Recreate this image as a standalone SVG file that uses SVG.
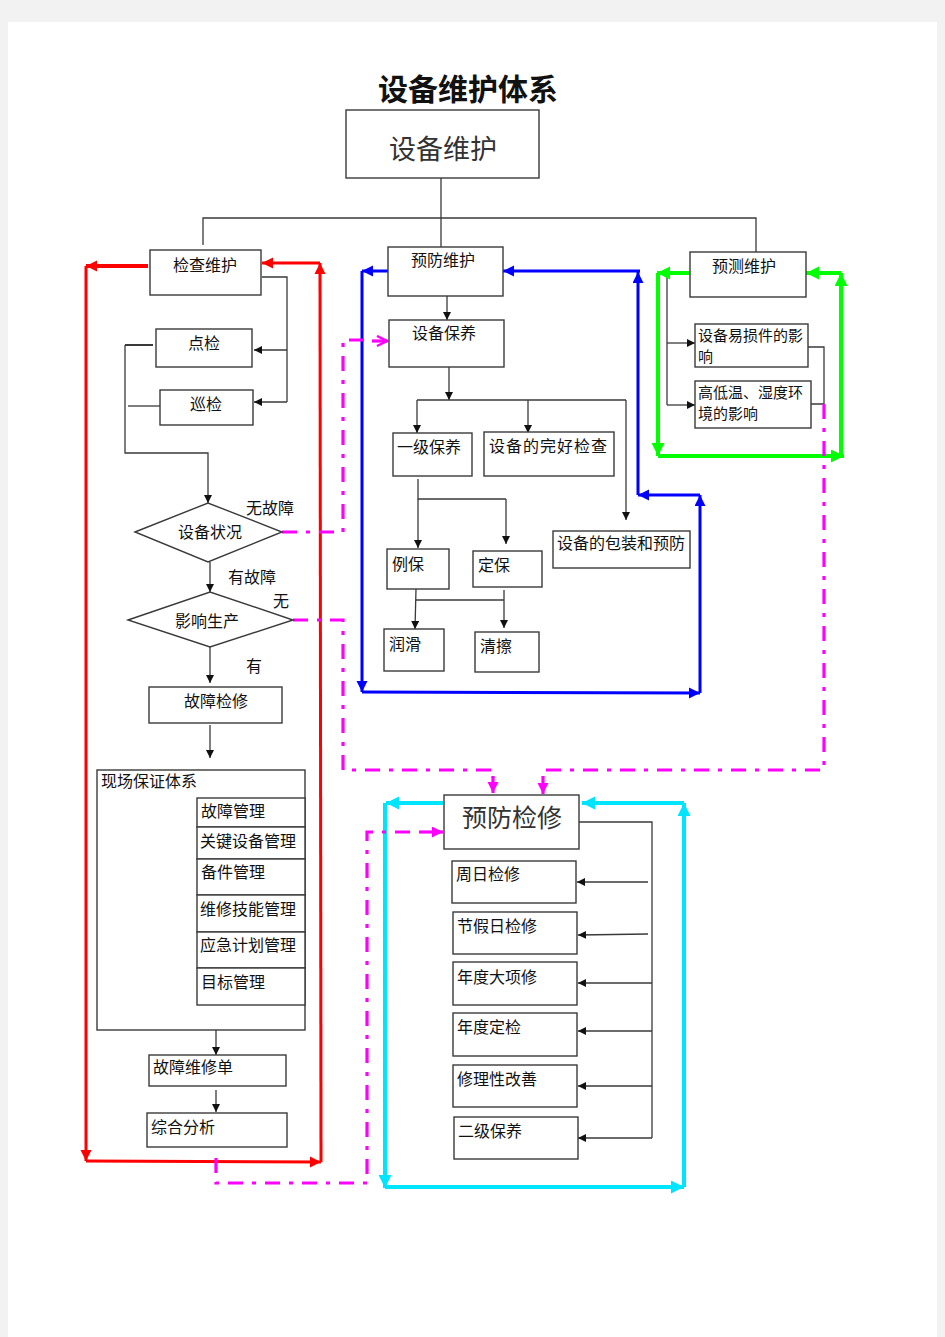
<svg xmlns="http://www.w3.org/2000/svg" width="945" height="1337" viewBox="0 0 945 1337">
<style>
.bx{fill:#fff;stroke:#3a3a3a;stroke-width:1.4}
.t{font-family:"Noto Sans CJK SC","Noto Sans CJK JP",sans-serif;font-size:16px;fill:#111}
.tc{text-anchor:middle}
.k{fill:none;stroke:#3a3a3a;stroke-width:1.3}
.r{fill:none;stroke:#ff0000;stroke-width:3}
.b{fill:none;stroke:#0000ff;stroke-width:3}
.g{fill:none;stroke:#00ff00;stroke-width:4}
.c{fill:none;stroke:#00e5ff;stroke-width:4}
.m{fill:none;stroke:#ff00ff;stroke-width:3.2;stroke-dasharray:15 9 4 9}
.ms{fill:none;stroke:#ff00ff;stroke-width:3.2}
</style>
<defs>
<marker id="ak" markerUnits="userSpaceOnUse" markerWidth="9" markerHeight="9" refX="8" refY="4" orient="auto"><path d="M0,0 L8,4 L0,8 z" fill="#111"/></marker>
<marker id="ar" markerUnits="userSpaceOnUse" markerWidth="12" markerHeight="12" refX="11" refY="5.5" orient="auto"><path d="M0,0 L11,5.5 L0,11 z" fill="#ff0000"/></marker>
<marker id="ab" markerUnits="userSpaceOnUse" markerWidth="12" markerHeight="12" refX="11" refY="5.5" orient="auto"><path d="M0,0 L11,5.5 L0,11 z" fill="#0000ff"/></marker>
<marker id="ag" markerUnits="userSpaceOnUse" markerWidth="14" markerHeight="14" refX="13" refY="6.5" orient="auto"><path d="M0,0 L13,6.5 L0,13 z" fill="#00ff00"/></marker>
<marker id="ac" markerUnits="userSpaceOnUse" markerWidth="14" markerHeight="14" refX="13" refY="6.5" orient="auto"><path d="M0,0 L13,6.5 L0,13 z" fill="#00e5ff"/></marker>
<marker id="am" markerUnits="userSpaceOnUse" markerWidth="12" markerHeight="12" refX="11" refY="5.5" orient="auto"><path d="M0,0 L11,5.5 L0,11 z" fill="#ff00ff"/></marker>
<marker id="amo" markerUnits="userSpaceOnUse" markerWidth="14" markerHeight="14" refX="11" refY="6" orient="auto"><path d="M1,1 L11,6 L1,11" fill="none" stroke="#ff00ff" stroke-width="2.5"/></marker>
<clipPath id="clipYS"><rect x="695" y="324" width="113" height="43"/></clipPath>
</defs>

<rect x="0" y="0" width="945" height="1337" fill="#f2f2f2"/>
<rect x="8" y="22" width="929" height="1315" fill="#fff"/>

<text x="468" y="100" class="t tc" style="font-size:30px;font-weight:bold">设备维护体系</text>

<g id="connectors">
  <!-- top tree -->
  <path class="k" d="M441,178 V248 M203,245 V218 H756 V253"/>
  <!-- left black -->
  <path class="k" d="M262,277 H287 V402"/>
  <line class="k" x1="287" y1="350" x2="254" y2="350" marker-end="url(#ak)"/>
  <line class="k" x1="287" y1="402" x2="254" y2="402" marker-end="url(#ak)"/>
  <path class="k" d="M128,406 H160"/>
  <path class="k" d="M125,345 H153" style="stroke-width:2"/>
  <path class="k" d="M125,345 V453 H208 V503" marker-end="url(#ak)"/>
  <line class="k" x1="210" y1="562" x2="210" y2="592" marker-end="url(#ak)"/>
  <line class="k" x1="210" y1="647" x2="210" y2="683" marker-end="url(#ak)"/>
  <line class="k" x1="210" y1="725" x2="210" y2="758" marker-end="url(#ak)"/>
  <line class="k" x1="216" y1="1030" x2="216" y2="1055" marker-end="url(#ak)"/>
  <line class="k" x1="216" y1="1090" x2="216" y2="1112" marker-end="url(#ak)"/>
  <!-- middle black -->
  <line class="k" x1="447" y1="296" x2="447" y2="320" marker-end="url(#ak)"/>
  <line class="k" x1="449" y1="367" x2="449" y2="400" marker-end="url(#ak)"/>
  <path class="k" d="M417,400 H626"/>
  <line class="k" x1="417" y1="400" x2="417" y2="433" marker-end="url(#ak)"/>
  <line class="k" x1="528" y1="400" x2="528" y2="433" marker-end="url(#ak)"/>
  <line class="k" x1="626" y1="400" x2="626" y2="520" marker-end="url(#ak)"/>
  <path class="k" d="M418,479 V499 H506"/>
  <line class="k" x1="418" y1="499" x2="418" y2="548" marker-end="url(#ak)"/>
  <line class="k" x1="506" y1="499" x2="506" y2="544" marker-end="url(#ak)"/>
  <path class="k" d="M416,600 H504"/>
  <line class="k" x1="416" y1="589" x2="415" y2="629" marker-end="url(#ak)"/>
  <line class="k" x1="504" y1="590" x2="504" y2="628" marker-end="url(#ak)"/>
  <!-- right black -->
  <path class="k" d="M667,273 V405"/>
  <line class="k" x1="667" y1="343" x2="695" y2="343" marker-end="url(#ak)"/>
  <line class="k" x1="667" y1="405" x2="695" y2="405" marker-end="url(#ak)"/>
  <path class="k" d="M808,347 H824 V404 H811"/>
  <!-- bottom right black -->
  <path class="k" d="M579,822 H652 V1138"/>
  <line class="k" x1="648" y1="882" x2="577" y2="882" marker-end="url(#ak)"/>
  <line class="k" x1="648" y1="934" x2="578" y2="935" marker-end="url(#ak)"/>
  <line class="k" x1="652" y1="983" x2="578" y2="983" marker-end="url(#ak)"/>
  <line class="k" x1="652" y1="1031" x2="578" y2="1031" marker-end="url(#ak)"/>
  <line class="k" x1="652" y1="1086" x2="578" y2="1086" marker-end="url(#ak)"/>
  <line class="k" x1="652" y1="1138" x2="578" y2="1138" marker-end="url(#ak)"/>

  <!-- red loop -->
  <line class="r" x1="148" y1="266" x2="86" y2="266" marker-end="url(#ar)" style="stroke-width:4"/>
  <line class="r" x1="86" y1="266" x2="86" y2="1161" marker-end="url(#ar)"/>
  <line class="r" x1="86" y1="1161" x2="321" y2="1162" marker-end="url(#ar)"/>
  <line class="r" x1="321" y1="1162" x2="320" y2="263" marker-end="url(#ar)"/>
  <line class="r" x1="320" y1="263" x2="262" y2="263" marker-end="url(#ar)"/>

  <!-- blue loop -->
  <line class="b" x1="388" y1="271" x2="362" y2="271" marker-end="url(#ab)"/>
  <line class="b" x1="362" y1="271" x2="362" y2="692" marker-end="url(#ab)"/>
  <line class="b" x1="362" y1="692" x2="700" y2="693" marker-end="url(#ab)"/>
  <line class="b" x1="700" y1="693" x2="700" y2="495" marker-end="url(#ab)"/>
  <line class="b" x1="700" y1="495" x2="638" y2="495" marker-end="url(#ab)"/>
  <line class="b" x1="638" y1="495" x2="638" y2="272" marker-end="url(#ab)"/>
  <line class="b" x1="640" y1="271" x2="503" y2="271" marker-end="url(#ab)"/>

  <!-- green loop -->
  <line class="g" x1="690" y1="273" x2="657" y2="273" marker-end="url(#ag)"/>
  <line class="g" x1="658" y1="273" x2="658" y2="456" marker-end="url(#ag)"/>
  <line class="g" x1="658" y1="456" x2="844" y2="456" marker-end="url(#ag)"/>
  <line class="g" x1="841" y1="456" x2="841" y2="273" marker-end="url(#ag)"/>
  <line class="g" x1="841" y1="273" x2="806" y2="273" marker-end="url(#ag)"/>

  <!-- cyan loop -->
  <line class="c" x1="443" y1="803" x2="386" y2="803" marker-end="url(#ac)"/>
  <line class="c" x1="385" y1="803" x2="385" y2="1188" marker-end="url(#ac)"/>
  <line class="c" x1="385" y1="1187" x2="684" y2="1187" marker-end="url(#ac)"/>
  <line class="c" x1="684" y1="1187" x2="684" y2="803" marker-end="url(#ac)"/>
  <line class="c" x1="684" y1="803" x2="582" y2="803" marker-end="url(#ac)"/>

  <!-- magenta dash-dot -->
  <path class="m" d="M282,532 H343 V340 H372"/>
  <line class="ms" x1="372" y1="341" x2="387" y2="341" marker-end="url(#amo)"/>
  <path class="m" d="M293,620 H343 V770 H493 V778"/>
  <line class="ms" x1="493" y1="776" x2="493" y2="793" marker-end="url(#am)"/>
  <path class="m" d="M824,404 V770 H543 V778"/>
  <line class="ms" x1="543" y1="778" x2="543" y2="794" marker-end="url(#am)"/>
  <path class="m" d="M216,1158 V1183 H367 V832 H420"/>
  <line class="ms" x1="420" y1="832" x2="443" y2="832" marker-end="url(#am)"/>
</g>

<g id="n-root"><rect class="bx" x="346" y="110" width="193" height="68"/><text x="443" y="159" class="t tc" style="font-size:27px;fill:#333">设备维护</text></g>

<g id="n-jcwh"><rect class="bx" x="150" y="250" width="111" height="45"/><text x="205" y="271" class="t tc">检查维护</text></g>
<g id="n-dj"><rect class="bx" x="156" y="329" width="96" height="38"/><text x="204" y="349" class="t tc">点检</text></g>
<g id="n-xj"><rect class="bx" x="160" y="390" width="93" height="35"/><text x="206" y="410" class="t tc">巡检</text></g>
<g id="n-sbzk"><polygon class="bx" points="135,532 208,503 282,532 208,562"/><text x="210" y="538" class="t tc">设备状况</text></g>
<text x="246" y="514" class="t">无故障</text>
<text x="228" y="583" class="t">有故障</text>
<g id="n-yxsc"><polygon class="bx" points="128,620 210,592 293,620 210,647"/><text x="207" y="627" class="t tc">影响生产</text></g>
<text x="273" y="607" class="t">无</text>
<text x="246" y="672" class="t">有</text>
<g id="n-gzjx"><rect class="bx" x="149" y="687" width="133" height="36"/><text x="216" y="707" class="t tc">故障检修</text></g>

<g id="n-xcbz"><rect class="bx" x="97" y="770" width="208" height="260"/><text x="101" y="787" class="t">现场保证体系</text></g>
<g id="n-gzgl"><rect class="bx" x="197" y="798" width="108" height="29"/><text x="201" y="817" class="t">故障管理</text></g>
<g id="n-gjsb"><rect class="bx" x="197" y="827" width="108" height="32"/><text x="200" y="847" class="t">关键设备管理</text></g>
<g id="n-bjgl"><rect class="bx" x="197" y="859" width="108" height="36"/><text x="201" y="878" class="t">备件管理</text></g>
<g id="n-wxjn"><rect class="bx" x="197" y="895" width="108" height="37"/><text x="200" y="915" class="t">维修技能管理</text></g>
<g id="n-yjjh"><rect class="bx" x="197" y="932" width="108" height="36"/><text x="200" y="951" class="t">应急计划管理</text></g>
<g id="n-mbgl"><rect class="bx" x="197" y="968" width="108" height="37"/><text x="201" y="988" class="t">目标管理</text></g>
<g id="n-gzwxd"><rect class="bx" x="149" y="1055" width="137" height="31"/><text x="153" y="1073" class="t">故障维修单</text></g>
<g id="n-zhfx"><rect class="bx" x="147" y="1113" width="140" height="34"/><text x="151" y="1133" class="t">综合分析</text></g>

<g id="n-yfwh"><rect class="bx" x="388" y="247" width="115" height="49"/><text x="443" y="266" class="t tc">预防维护</text></g>
<g id="n-sbby"><rect class="bx" x="389" y="320" width="115" height="47"/><text x="444" y="339" class="t tc">设备保养</text></g>
<g id="n-yjby"><rect class="bx" x="393" y="433" width="79" height="43"/><text x="397" y="453" class="t">一级保养</text></g>
<g id="n-wahj"><rect class="bx" x="484" y="432" width="130" height="44"/><text x="489" y="452" class="t" style="letter-spacing:1px">设备的完好检查</text></g>
<g id="n-bzyf"><rect class="bx" x="553" y="531" width="137" height="37"/><text x="557" y="549" class="t">设备的包装和预防</text></g>
<g id="n-lb"><rect class="bx" x="387" y="549" width="62" height="40"/><text x="392" y="570" class="t">例保</text></g>
<g id="n-db"><rect class="bx" x="473" y="551" width="69" height="36"/><text x="478" y="571" class="t">定保</text></g>
<g id="n-rh"><rect class="bx" x="384" y="629" width="60" height="42"/><text x="389" y="650" class="t">润滑</text></g>
<g id="n-qc"><rect class="bx" x="475" y="632" width="64" height="40"/><text x="480" y="652" class="t">清擦</text></g>

<g id="n-ycwh"><rect class="bx" x="690" y="252" width="116" height="45"/><text x="744" y="272" class="t tc">预测维护</text></g>
<g id="n-ysj"><rect class="bx" x="695" y="324" width="113" height="43"/><g clip-path="url(#clipYS)"><text class="t" style="font-size:15px"><tspan x="698" y="341">设备易损件的影</tspan><tspan x="698" y="362">响</tspan></text></g></g>
<g id="n-gdw"><rect class="bx" x="695" y="381" width="116" height="47"/><text class="t" style="font-size:15px"><tspan x="698" y="398">高低温、湿度环</tspan><tspan x="698" y="419">境的影响</tspan></text></g>

<g id="n-yfjx"><rect class="bx" x="444" y="795" width="135" height="54"/><text x="512" y="827" class="t tc" style="font-size:25px;fill:#333">预防检修</text></g>
<g id="n-zrjx"><rect class="bx" x="452" y="861" width="124" height="42"/><text x="456" y="880" class="t">周日检修</text></g>
<g id="n-jjrjx"><rect class="bx" x="453" y="912" width="124" height="42"/><text x="457" y="932" class="t">节假日检修</text></g>
<g id="n-ndxx"><rect class="bx" x="453" y="962" width="124" height="43"/><text x="457" y="983" class="t">年度大项修</text></g>
<g id="n-nddj"><rect class="bx" x="453" y="1013" width="124" height="43"/><text x="457" y="1033" class="t">年度定检</text></g>
<g id="n-xlxgs"><rect class="bx" x="453" y="1065" width="124" height="42"/><text x="457" y="1085" class="t">修理性改善</text></g>
<g id="n-ejby"><rect class="bx" x="454" y="1117" width="124" height="42"/><text x="458" y="1137" class="t">二级保养</text></g>
</svg>
